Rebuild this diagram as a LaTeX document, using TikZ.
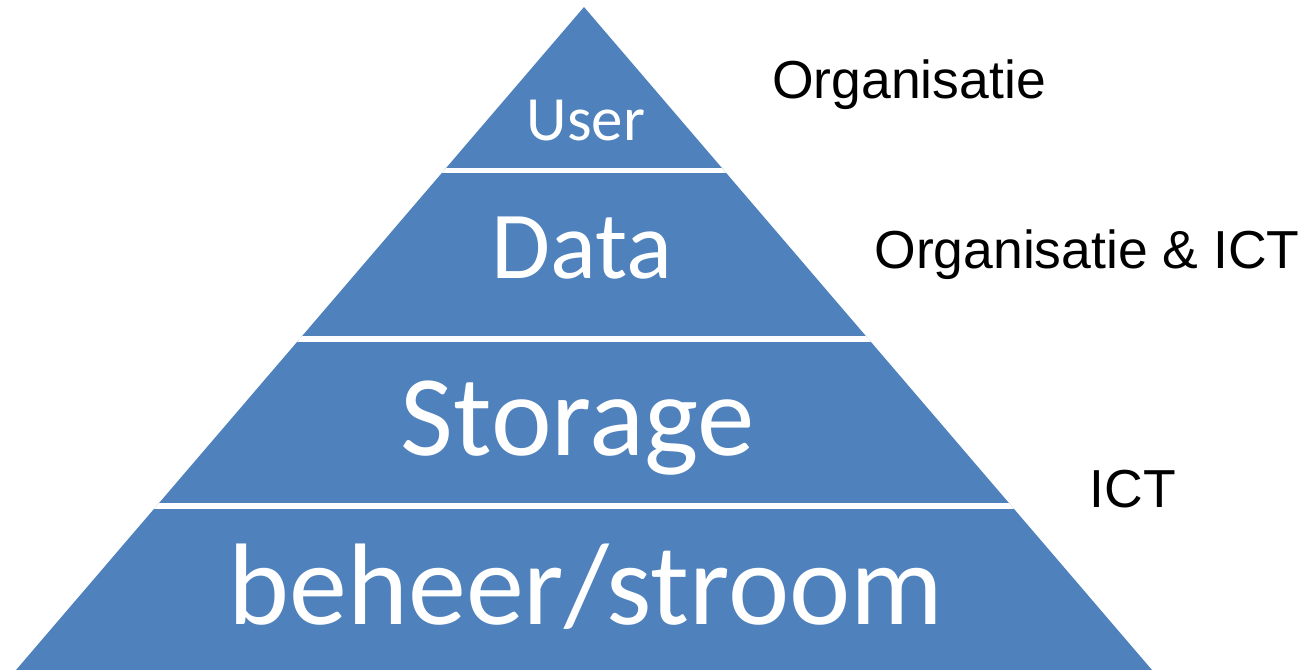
\documentclass[tikz,border=0pt]{standalone}
\usepackage{fontspec}
\setmainfont{Liberation Sans}
\newfontfamily\layerfont{Carlito}
\definecolor{pyrblue}{RGB}{79,129,189}

\begin{document}
\begin{tikzpicture}[x=1pt,y=-1pt,
  layer text/.style={text=white,inner sep=0pt,anchor=base},
  side text/.style={text=black,inner sep=0pt,anchor=base,font=\fontsize{53.5}{60}\selectfont}]
  \useasboundingbox (0,0) rectangle (1315,670);
  % the pyramid, cut into four layers by white bands
  \begin{scope}
    \clip (584,7) -- (1152,670) -- (16,670) -- cycle;
    \fill[pyrblue] (0,0) rectangle (1315,670);
    \foreach \y in {170.5,339,506}
      \draw[white,line width=5.5pt] (0,\y) -- (1315,\y);
  \end{scope}
  % layer labels
  \node[layer text,font=\layerfont\fontsize{63}{70}\selectfont] (user) at (586,140) {User};
  \node[layer text,font=\layerfont\fontsize{96}{100}\selectfont] (data) at (582,278) {Data};
  \node[layer text,font=\layerfont\fontsize{115}{120}\selectfont] (storage) at (578,455) {Storage};
  \node[layer text,font=\layerfont\fontsize{116}{120}\selectfont] (beheer) at (586,624) {beheer/stroom};
  % who owns which layer
  \node[side text] (org) at (909,98) {Organisatie};
  \node[side text] (orgict) at (1087,268) {Organisatie \& ICT};
  \node[side text] (ict) at (1133,507) {ICT};
\end{tikzpicture}
\end{document}
